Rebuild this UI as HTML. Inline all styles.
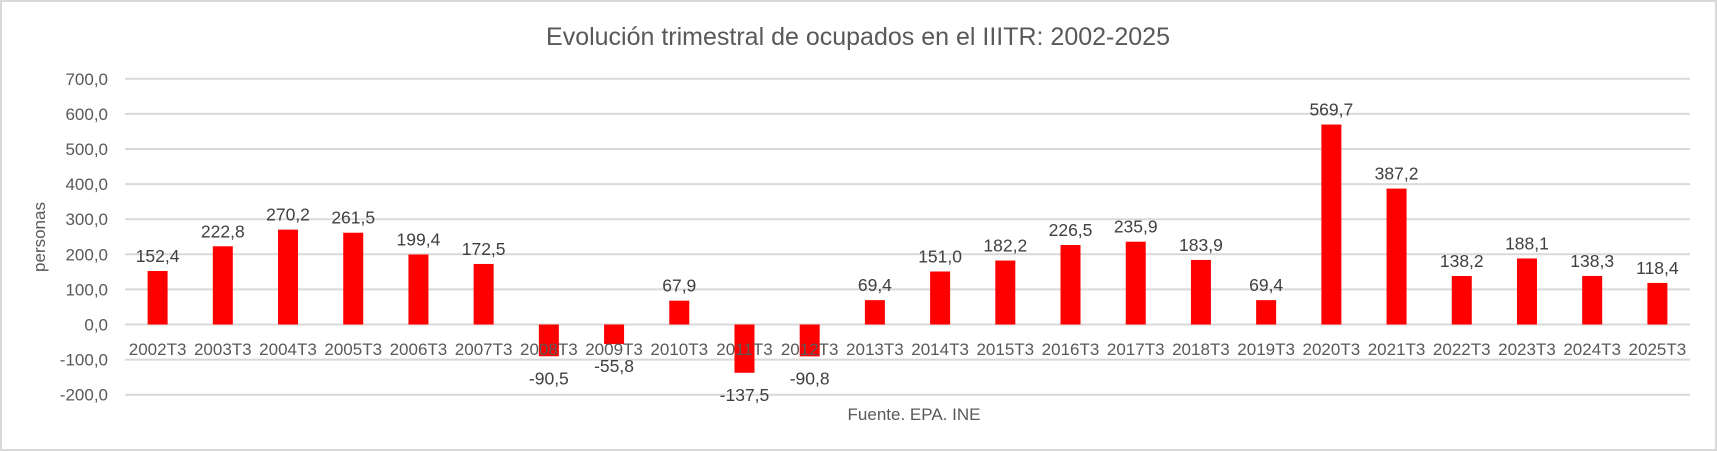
<!DOCTYPE html>
<html><head><meta charset="utf-8"><style>
body{margin:0;background:#fff;}
svg{display:block;font-family:"Liberation Sans",sans-serif;}
</style></head><body>
<svg id="chart" width="1717" height="451">
<rect x="1" y="1" width="1715" height="449" fill="#fff" stroke="#d9d9d9" stroke-width="2"/>
<text x="858" y="45" text-anchor="middle" font-size="25" fill="#595959">Evolución trimestral de ocupados en el IIITR: 2002-2025</text>
<text transform="translate(45,237) rotate(-90)" text-anchor="middle" font-size="17" fill="#595959">personas</text>
<text x="914" y="420" text-anchor="middle" font-size="17" fill="#595959">Fuente. EPA. INE</text>
<g id="grid"></g><g id="bars"></g><g id="labels"></g>
</svg>
<script>
const categories=["2002T3","2003T3","2004T3","2005T3","2006T3","2007T3","2008T3","2009T3","2010T3","2011T3","2012T3","2013T3","2014T3","2015T3","2016T3","2017T3","2018T3","2019T3","2020T3","2021T3","2022T3","2023T3","2024T3","2025T3"];
const values=[152.4,222.8,270.2,261.5,199.4,172.5,-90.5,-55.8,67.9,-137.5,-90.8,69.4,151.0,182.2,226.5,235.9,183.9,69.4,569.7,387.2,138.2,188.1,138.3,118.4];
const yTicks=[700,600,500,400,300,200,100,0,-100,-200];
const NS="http://www.w3.org/2000/svg";
const L=125,R=1690,Y0=324.5,PX=0.351;
const y=v=>Y0-v*PX;
const step=(R-L)/categories.length;
const xc=i=>L+step*(i+0.5);
const fmt=v=>v.toFixed(1).replace('.',',');
function mk(t,a,p,txt){const e=document.createElementNS(NS,t);for(const k in a)e.setAttribute(k,a[k]);if(txt!=null)e.textContent=txt;p.appendChild(e);return e;}
const grid=document.getElementById('grid'),bars=document.getElementById('bars'),labels=document.getElementById('labels');
yTicks.forEach(t=>{
 const l=mk('line',{x1:L,x2:R,y1:y(t),y2:y(t),stroke:'#d9d9d9','stroke-width':2},grid);
 
 
 const tx=mk('text',{x:108,y:y(t)+6,'text-anchor':'end','font-size':17,fill:'#595959'},grid,fmt(t));
 
 
});
const bw=20;
values.forEach((v,i)=>{
 const top=Math.min(y(v),Y0),h=Math.abs(y(v)-Y0);
 const b=mk('rect',{x:xc(i)-bw/2,y:top,width:bw,height:h,fill:'#ff0000'},bars);
 
 
 const ly=v>=0?y(v)-9:y(v)+28;
 const d=mk('text',{x:xc(i),y:ly,'text-anchor':'middle','font-size':17.5,fill:'#404040'},labels,fmt(v));
 
 
 const c=mk('text',{x:xc(i),y:355,'text-anchor':'middle','font-size':17,fill:'#595959'},labels,categories[i]);
 
 
});
</script>
</body></html>
